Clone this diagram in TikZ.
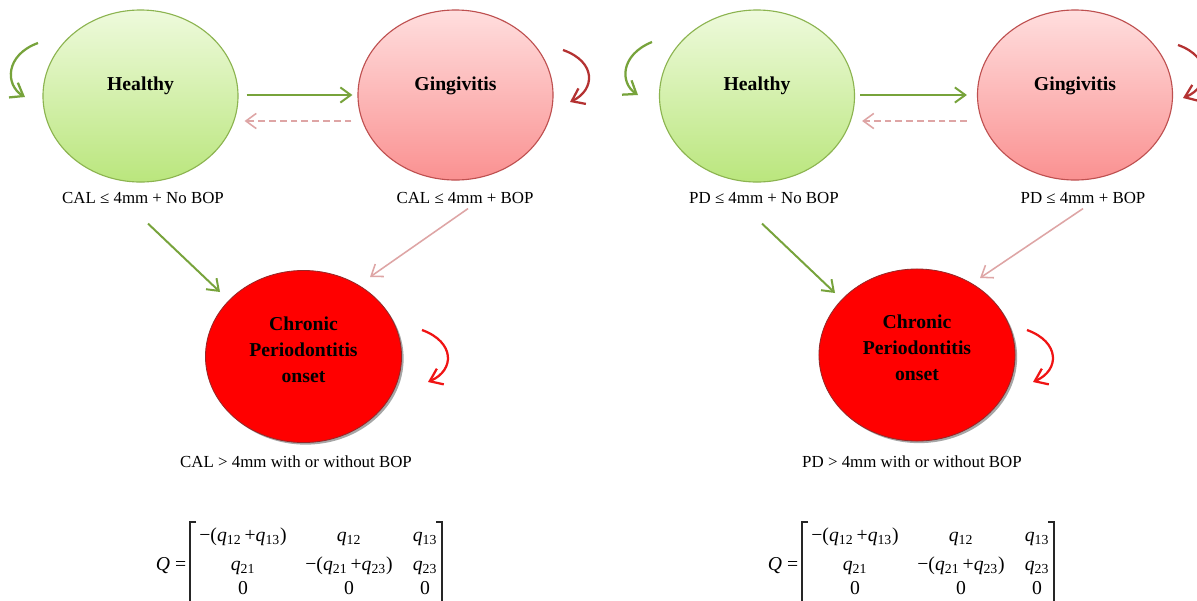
\documentclass[tikz,border=0pt]{standalone}
\usepackage{fontspec}
\setmainfont{Liberation Serif}
\usetikzlibrary{arrows.meta,shapes.geometric,shadows}
\definecolor{garrow}{RGB}{119,163,59}
\definecolor{parrow}{RGB}{222,165,165}
\definecolor{drarrow}{RGB}{180,50,50}
\definecolor{rarrow}{RGB}{240,20,20}
\definecolor{hborder}{RGB}{140,180,80}
\definecolor{htop}{RGB}{238,250,220}
\definecolor{hbot}{RGB}{186,230,125}
\definecolor{gborder}{RGB}{190,80,80}
\definecolor{gtop}{RGB}{255,222,222}
\definecolor{gbot}{RGB}{250,145,145}
\definecolor{cfill}{RGB}{255,0,0}
\definecolor{cborder}{RGB}{150,40,40}
\newcommand{\qq}[1]{\textit{q}\textsubscript{#1}}
\tikzset{
  stateshape/.style={ellipse, inner sep=0pt},
  healthy/.style={stateshape, draw=hborder, line width=0.8pt, top color=htop, bottom color=hbot, minimum width=4.875cm, minimum height=4.3cm},
  gingi/.style={stateshape, draw=gborder, line width=0.8pt, top color=gtop, bottom color=gbot, minimum width=4.875cm, minimum height=4.25cm},
  chronic/.style={stateshape, draw=cborder, line width=0.6pt, fill=cfill, minimum width=4.9cm, minimum height=4.3cm, drop shadow={shadow xshift=1.5pt, shadow yshift=-1.5pt, opacity=0.35, fill=black}},
  title/.style={font=\bfseries\fontsize{14}{18.5}\selectfont, align=center, text=black},
  lab/.style={font=\fontsize{12}{14}\selectfont},
  cell/.style={font=\fontsize{14}{16}\selectfont, anchor=base, inner sep=0pt},
  tip/.style={-{Straight Barb[length=2.6mm,width=3.8mm]}},
  looptip/.style={-{Straight Barb[length=2.9mm,width=4.3mm]}},
  garr/.style={draw=garrow, line width=1.4pt, tip},
  parr/.style={draw=parrow, line width=1.1pt, tip},
  pdash/.style={parr, dash pattern=on 1.7mm off 1mm},
  loopg/.style={draw=garrow, line width=1.6pt, looptip},
  loopd/.style={draw=drarrow, line width=1.6pt, looptip},
  loopr/.style={draw=rarrow, line width=1.6pt, looptip},
  brk/.style={draw=black!85, line width=0.9pt}
}
\begin{document}
\begin{tikzpicture}[x=0.025cm, y=-0.025cm]
\useasboundingbox (0,0) rectangle (1197,600);
\clip (0,0) rectangle (1197,600);
\fill[white] (0,0) rectangle (1197,600);

% ---------------- Left panel ----------------
\node[healthy] (hl) at (140.5,96) {};
\node[gingi] (gl) at (455.5,95) {};
\node[chronic] (cl) at (303.5,356.5) {};
\node[title] (hlt) at ([shift={(0,-10)}]hl.center) {Healthy};
\node[title] (glt) at ([shift={(0,-9)}]gl.center) {Gingivitis};
\node[title] (clt) at ([shift={(0,-7)}]cl.center) {Chronic\\Periodontitis\\onset};
\node[lab] (hll) at (143,198) {CAL ≤ 4mm + No BOP};
\node[lab] (gll) at (465,198) {CAL ≤ 4mm + BOP};
\node[lab] (cll) at (296,462) {CAL > 4mm with or without BOP};

\draw[garr] ([shift={(8,-1)}]hl.east) -- ([shift={(-5,0)}]gl.west);
\draw[pdash] ([shift={(-6,26)}]gl.west) -- ([shift={(6,25)}]hl.east);
\draw[garr] ([shift={(7.5,41)}]hl.south) -- ([shift={(-83.5,-64.5)}]cl.center);
\draw[parr] ([shift={(12.5,28)}]gl.south) -- ([shift={(66.5,-79.5)}]cl.center);

\draw[loopg] ([shift={(-102.5,-53)}]hl.center) .. controls ([shift={(-135.5,-41)}]hl.center) and ([shift={(-135.5,-11)}]hl.center) .. ([shift={(-115.5,1)}]hl.center);
\draw[loopd] ([shift={(107.5,-45)}]gl.center) .. controls ([shift={(141.5,-33)}]gl.center) and ([shift={(139.5,-5)}]gl.center) .. ([shift={(114.5,7)}]gl.center);
\draw[loopr] ([shift={(118.5,-26.5)}]cl.center) .. controls ([shift={(151.5,-14.5)}]cl.center) and ([shift={(151.5,13.5)}]cl.center) .. ([shift={(124.5,25.5)}]cl.center);

% matrix left
\node[cell] (lq) at (171,570) {\textit{Q} =};
\node[cell] (l11) at (243,541) {−(\qq{12}\,+\qq{13})};
\node[cell] (l12) at (349,541) {\qq{12}};
\node[cell] (l13) at (425,541) {\qq{13}};
\node[cell] (l21) at (243,570) {\qq{21}};
\node[cell] (l22) at (349,570) {−(\qq{21}\,+\qq{23})};
\node[cell] (l23) at (425,570) {\qq{23}};
\node[cell] (l31) at (243,594) {0};
\node[cell] (l32) at (349,594) {0};
\node[cell] (l33) at (425,594) {0};
\draw[brk] (196,522) -- (190,522) -- (190,610) -- (196,610);
\draw[brk] (436,522) -- (442,522) -- (442,610) -- (436,610);

% ---------------- Right panel ----------------
\node[healthy] (hr) at (757,96) {};
\node[gingi] (gr) at (1075,95) {};
\node[chronic] (cr) at (917,355) {};
\node[title] (hrt) at ([shift={(0,-10)}]hr.center) {Healthy};
\node[title] (grt) at ([shift={(0,-9)}]gr.center) {Gingivitis};
\node[title] (crt) at ([shift={(0,-7)}]cr.center) {Chronic\\Periodontitis\\onset};
\node[lab] (hrl) at (764,198) {PD ≤ 4mm + No BOP};
\node[lab] (grl) at (1083,198) {PD ≤ 4mm + BOP};
\node[lab] (crl) at (912,462) {PD > 4mm with or without BOP};

\draw[garr] ([shift={(5,-1)}]hr.east) -- ([shift={(-10,0)}]gr.west);
\draw[pdash] ([shift={(-10,26)}]gr.west) -- ([shift={(7,25)}]hr.east);
\draw[garr] ([shift={(5,41)}]hr.south) -- ([shift={(-82,-62)}]cr.center);
\draw[parr] ([shift={(8,28)}]gr.south) -- ([shift={(63,-77)}]cr.center);

\draw[loopg] ([shift={(-105,-54)}]hr.center) .. controls ([shift={(-137,-41)}]hr.center) and ([shift={(-137,-13)}]hr.center) .. ([shift={(-119,-1)}]hr.center);
\draw[loopd] ([shift={(103,-50)}]gr.center) .. controls ([shift={(137,-38)}]gr.center) and ([shift={(135,-8)}]gr.center) .. ([shift={(108,3)}]gr.center);
\draw[loopr] ([shift={(110,-25)}]cr.center) .. controls ([shift={(143,-13)}]cr.center) and ([shift={(143,15)}]cr.center) .. ([shift={(116,27)}]cr.center);

% matrix right
\node[cell] (rq) at (783,570) {\textit{Q} =};
\node[cell] (r11) at (855,541) {−(\qq{12}\,+\qq{13})};
\node[cell] (r12) at (961,541) {\qq{12}};
\node[cell] (r13) at (1037,541) {\qq{13}};
\node[cell] (r21) at (855,570) {\qq{21}};
\node[cell] (r22) at (961,570) {−(\qq{21}\,+\qq{23})};
\node[cell] (r23) at (1037,570) {\qq{23}};
\node[cell] (r31) at (855,594) {0};
\node[cell] (r32) at (961,594) {0};
\node[cell] (r33) at (1037,594) {0};
\draw[brk] (808,522) -- (802,522) -- (802,610) -- (808,610);
\draw[brk] (1048,522) -- (1054,522) -- (1054,610) -- (1048,610);
\end{tikzpicture}
\end{document}
